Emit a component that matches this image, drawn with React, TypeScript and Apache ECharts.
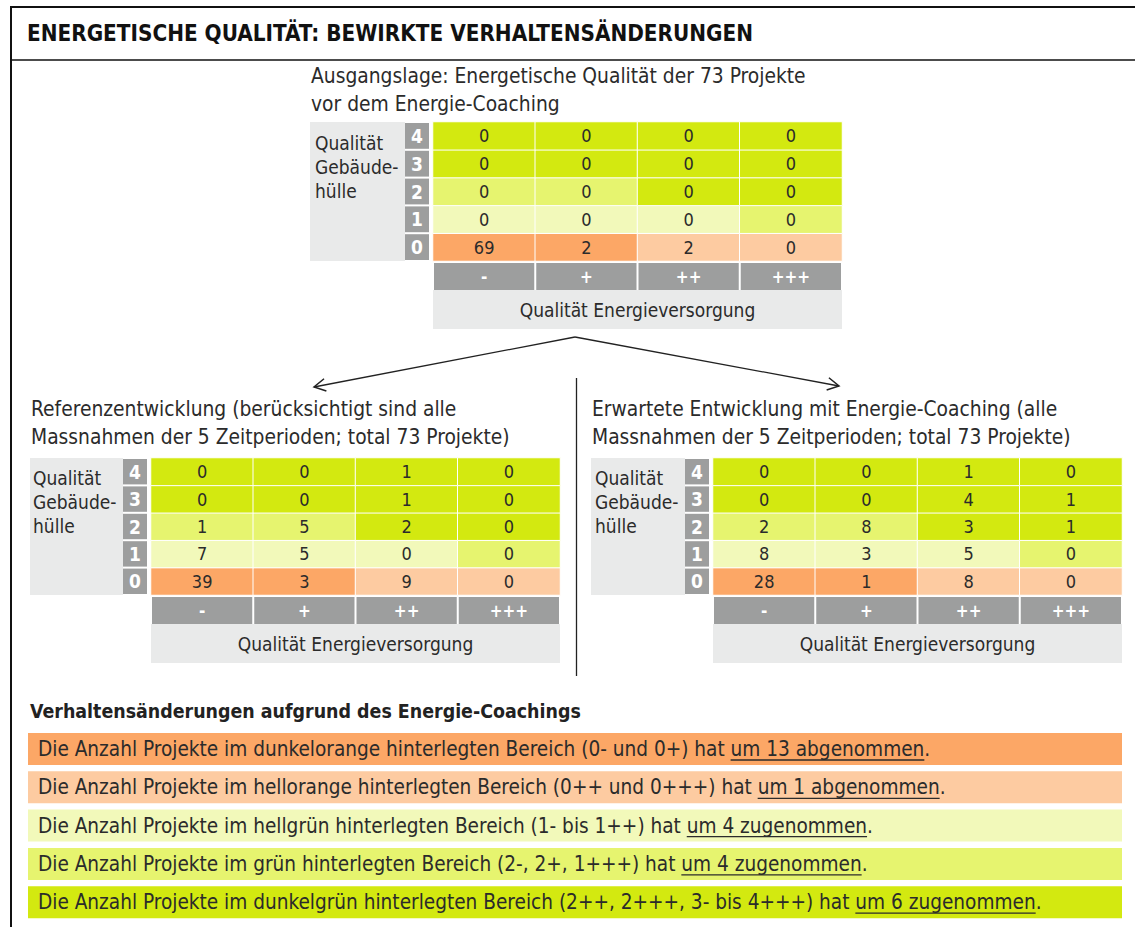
import React, { useEffect, useRef } from "react";
import * as echarts from "echarts";

// ---------- data ----------
const colLabels = ["-", "+", "++", "+++"];
const rowLabels = ["0", "1", "2", "3", "4"];
// values per row (row 0 .. row 4), columns -, +, ++, +++
const baseValues = [
  [69, 2, 2, 0],
  [0, 0, 0, 0],
  [0, 0, 0, 0],
  [0, 0, 0, 0],
  [0, 0, 0, 0],
];
const referenceValues = [
  [39, 3, 9, 0],
  [7, 5, 0, 0],
  [1, 5, 2, 0],
  [0, 0, 1, 0],
  [0, 0, 1, 0],
];
const coachingValues = [
  [28, 1, 8, 0],
  [8, 3, 5, 0],
  [2, 8, 3, 1],
  [0, 0, 4, 1],
  [0, 0, 1, 0],
];
// zone class of each cell: 0 dark orange, 1 light orange, 2 light green, 3 green, 4 dark green
const zoneOfCell = [
  [0, 0, 1, 1],
  [2, 2, 2, 3],
  [3, 3, 4, 4],
  [4, 4, 4, 4],
  [4, 4, 4, 4],
];
const titleText = "ENERGETISCHE QUALITÄT: BEWIRKTE VERHALTENSÄNDERUNGEN";
const matrixTitles = [
  ["Ausgangslage: Energetische Qualität der 73 Projekte", "vor dem Energie-Coaching"],
  ["Referenzentwicklung (berücksichtigt sind alle", "Massnahmen der 5 Zeitperioden; total 73 Projekte)"],
  ["Erwartete Entwicklung mit Energie-Coaching (alle", "Massnahmen der 5 Zeitperioden; total 73 Projekte)"],
];
const yAxisTitle = ["Qualität", "Gebäude-", "hülle"];
const xAxisTitle = "Qualität Energieversorgung";
const summaryHeading = "Verhaltensänderungen aufgrund des Energie-Coachings";
const summaryLead = [
  "Die Anzahl Projekte im dunkelorange hinterlegten Bereich (0- und 0+) hat ",
  "Die Anzahl Projekte im hellorange hinterlegten Bereich (0++ und 0+++) hat ",
  "Die Anzahl Projekte im hellgrün hinterlegten Bereich (1- bis 1++) hat ",
  "Die Anzahl Projekte im grün hinterlegten Bereich (2-, 2+, 1+++) hat ",
  "Die Anzahl Projekte im dunkelgrün hinterlegten Bereich (2++, 2+++, 3- bis 4+++) hat ",
];
const summaryChange = [
  "um 13 abgenommen",
  "um 1 abgenommen",
  "um 4 zugenommen",
  "um 4 zugenommen",
  "um 6 zugenommen",
];
const summaryZone = [0, 1, 2, 3, 4];

// ---------- styles ----------
const zoneColors = ["#fca766", "#fdcba1", "#f2f9ba", "#e6f46f", "#d3e910"];
const FONT = '"Liberation Sans Narrow", "DejaVu Sans Condensed", "Noto Sans", sans-serif';
const DARK_GRAY = "#9d9e9e";
const LIGHT_GRAY = "#e9eaea";
const TEXT = "#2b2b2b";

const layouts = [
  { gridLeft: 433, gridTop: 122, gridW: 409, gridH: 139, boxLeft: 310, titleX: 311, titleY: 76, labelX: 315, labelY: 143 },
  { gridLeft: 151, gridTop: 458, gridW: 409, gridH: 137, boxLeft: 30, titleX: 31, titleY: 409, labelX: 33, labelY: 478 },
  { gridLeft: 713, gridTop: 458, gridW: 409, gridH: 137, boxLeft: 591, titleX: 592, titleY: 409, labelX: 595, labelY: 478 },
];

function measure(text: string, size: number, weight = "normal") {
  const c = document.createElement("canvas");
  const ctx = c.getContext("2d")!;
  ctx.font = `${weight} ${size}px ${FONT}`;
  return ctx.measureText(text).width;
}

function txt(text: string, x: number, y: number, size: number, extra: any = {}) {
  return {
    type: "text",
    z: 10,
    style: {
      text,
      x,
      y,
      fontSize: size,
      fontFamily: FONT,
      fill: TEXT,
      align: "left",
      verticalAlign: "middle",
      textAlign: "left",
      textVerticalAlign: "middle",
      ...extra,
    },
  };
}

export default function App() {
  const ref = useRef<HTMLDivElement>(null);
  useEffect(() => {
    const chart = echarts.init(ref.current!, null, { renderer: "svg" });
    const datasets = [baseValues, referenceValues, coachingValues];

    const grids: any[] = [];
    const xAxes: any[] = [];
    const yAxes: any[] = [];
    const series: any[] = [];
    const graphics: any[] = [];

    // frame
    graphics.push({ type: "line", shape: { x1: 10, y1: 7, x2: 1135, y2: 7 }, style: { stroke: "#111", lineWidth: 2 } });
    graphics.push({ type: "line", shape: { x1: 11, y1: 6, x2: 11, y2: 927 }, style: { stroke: "#111", lineWidth: 2 } });
    graphics.push({ type: "line", shape: { x1: 10, y1: 60, x2: 1135, y2: 60 }, style: { stroke: "#111", lineWidth: 1.5 } });
    graphics.push(txt(titleText, 27, 33, 22.3, { fontWeight: "bold", fill: "#111" }));

    layouts.forEach((L, i) => {
      grids.push({ left: L.gridLeft, top: L.gridTop, width: L.gridW, height: L.gridH, containLabel: false });
      xAxes.push({
        type: "category",
        gridIndex: i,
        data: colLabels,
        position: "bottom",
        axisLine: { show: false },
        axisTick: { show: false },
        splitLine: { show: false },
        axisLabel: {
          interval: 0,
          margin: 2,
          formatter: (v: string) => `{h|${v}}`,
          rich: {
            h: {
              width: L.gridW / 4 - 2,
              height: 27,
              lineHeight: 27,
              backgroundColor: DARK_GRAY,
              color: "#fff",
              fontWeight: "bold",
              fontSize: 17,
              fontFamily: FONT,
              align: "center",
              verticalAlign: "middle",
            },
          },
        },
      });
      yAxes.push({
        type: "category",
        gridIndex: i,
        data: rowLabels,
        axisLine: { show: false },
        axisTick: { show: false },
        splitLine: { show: false },
        axisLabel: {
          interval: 0,
          margin: 4,
          formatter: (v: string) => `{r|${v}}`,
          rich: {
            r: {
              width: 24,
              height: L.gridH / 5 - 2,
              lineHeight: L.gridH / 5 - 2,
              backgroundColor: DARK_GRAY,
              color: "#fff",
              fontWeight: "bold",
              fontSize: 19,
              fontFamily: FONT,
              align: "center",
              verticalAlign: "middle",
            },
          },
        },
      });
      const vals = datasets[i];
      const data: any[] = [];
      for (let r = 0; r < rowLabels.length; r++) {
        for (let c = 0; c < colLabels.length; c++) {
          data.push([c, r, vals[r][c], zoneOfCell[r][c]]);
        }
      }
      series.push({
        type: "heatmap",
        xAxisIndex: i,
        yAxisIndex: i,
        data,
        itemStyle: { borderColor: "#fff", borderWidth: 1 },
        label: {
          show: true,
          formatter: (p: any) => String(p.value[2]),
          color: TEXT,
          fontSize: 18,
          fontFamily: FONT,
        },
        emphasis: { disabled: true },
      });

      // gray y-title box
      const rowColLeft = L.gridLeft - 28;
      graphics.push({
        type: "rect",
        z: 1,
        shape: { x: L.boxLeft, y: L.gridTop, width: rowColLeft - L.boxLeft, height: L.gridH },
        style: { fill: LIGHT_GRAY },
      });
      yAxisTitle.forEach((t, k) => graphics.push(txt(t, L.labelX, L.labelY + k * 24, 19)));
      // x title box
      const boxTop = L.gridTop + L.gridH + 29;
      graphics.push({
        type: "rect",
        z: 1,
        shape: { x: L.gridLeft, y: boxTop, width: L.gridW, height: 39 },
        style: { fill: LIGHT_GRAY },
      });
      graphics.push(
        txt(xAxisTitle, L.gridLeft + L.gridW / 2, boxTop + 20, 19, { align: "center", textAlign: "center" })
      );
      // matrix titles
      matrixTitles[i].forEach((t, k) => graphics.push(txt(t, L.titleX, L.titleY + k * 28, 20.8)));
    });

    // arrows
    const arrow = (x1: number, y1: number, x2: number, y2: number) => {
      graphics.push({ type: "line", shape: { x1, y1, x2, y2 }, style: { stroke: "#222", lineWidth: 1.3 } });
      const a = Math.atan2(y1 - y2, x1 - x2);
      const len = 13;
      const sp = 0.5;
      graphics.push({
        type: "polyline",
        shape: {
          points: [
            [x2 + len * Math.cos(a + sp), y2 + len * Math.sin(a + sp)],
            [x2, y2],
            [x2 + len * Math.cos(a - sp), y2 + len * Math.sin(a - sp)],
          ],
        },
        style: { stroke: "#222", lineWidth: 1.5, fill: null },
      });
    };
    arrow(575, 337, 314, 387);
    arrow(575, 337, 839, 386);
    // divider
    graphics.push({ type: "line", shape: { x1: 576.5, y1: 378, x2: 576.5, y2: 676 }, style: { stroke: "#222", lineWidth: 1.3 } });

    // summary
    graphics.push(txt(summaryHeading, 30, 711, 19.4, { fontWeight: "bold", fill: "#222" }));
    const fs = 20.6;
    summaryLead.forEach((lead, i) => {
      const top = 733 + i * 38.3;
      graphics.push({
        type: "rect",
        z: 1,
        shape: { x: 28, y: top, width: 1094, height: 32 },
        style: { fill: zoneColors[summaryZone[i]] },
      });
      const cy = top + 16;
      graphics.push(txt(lead + summaryChange[i] + ".", 38, cy, fs));
      const x0 = 38 + measure(lead, fs);
      const x1 = 38 + measure(lead + summaryChange[i], fs);
      graphics.push({
        type: "line",
        z: 10,
        shape: { x1: x0, y1: cy + 11, x2: x1, y2: cy + 11 },
        style: { stroke: TEXT, lineWidth: 1.3 },
      });
    });

    chart.setOption({
      animation: false,
      backgroundColor: "#fff",
      grid: grids,
      xAxis: xAxes,
      yAxis: yAxes,
      visualMap: {
        type: "piecewise",
        show: false,
        dimension: 3,
        seriesIndex: [0, 1, 2],
        pieces: zoneColors.map((c, k) => ({ value: k, color: c })),
      },
      series,
      graphic: graphics,
    });
    return () => chart.dispose();
  }, []);
  return (
    <div
      ref={ref}
      style={{ position: "absolute", left: 0, top: 0, width: 1135, height: 927, background: "#fff" }}
    />
  );
}
